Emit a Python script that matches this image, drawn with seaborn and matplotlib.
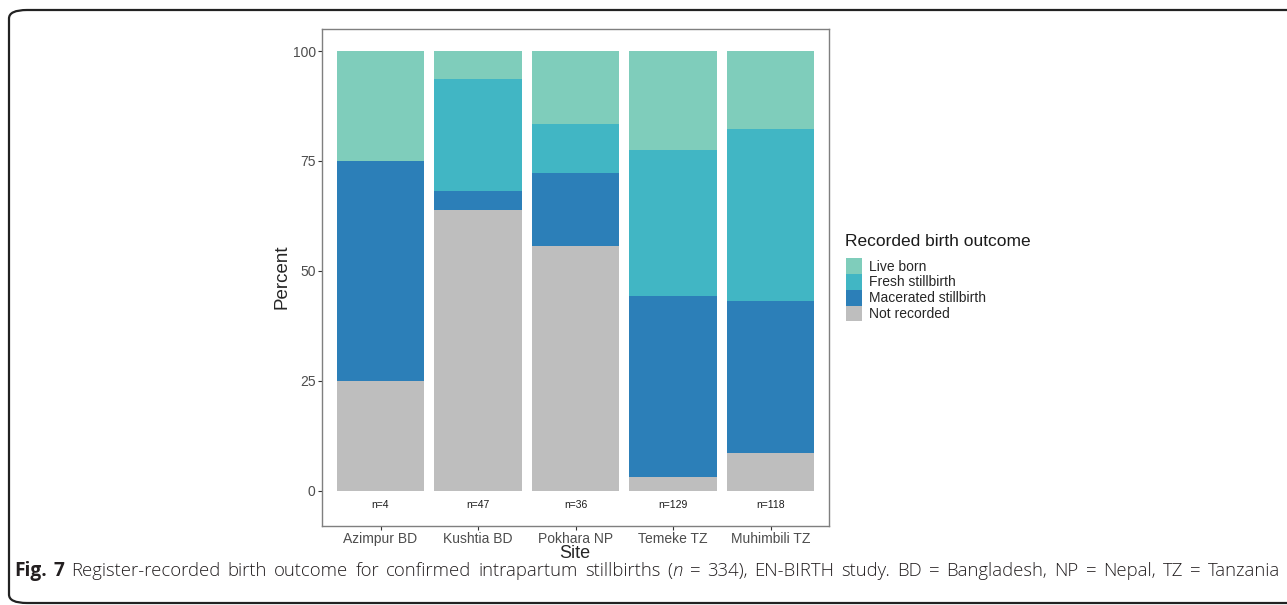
import numpy as np
import pandas as pd
import seaborn as sns
import matplotlib.pyplot as plt
from matplotlib.patches import Patch, FancyBboxPatch

# counts (percent = count / n)
sites = ['Azimpur BD', 'Kushtia BD', 'Pokhara NP', 'Temeke TZ', 'Muhimbili TZ']
not_recorded = [1, 30, 20, 4, 10]
macerated = [2, 2, 6, 53, 41]
fresh = [0, 12, 4, 43, 46]
live_born = [1, 3, 6, 29, 21]

outcomes = ['Live born', 'Fresh stillbirth', 'Macerated stillbirth', 'Not recorded']
colors = ['#7fcdbb', '#41b6c4', '#2c7fb8', '#bebebe']

df = pd.DataFrame({'site': sites, 'Not recorded': not_recorded,
                   'Macerated stillbirth': macerated,
                   'Fresh stillbirth': fresh, 'Live born': live_born})
df['n'] = df[outcomes].sum(axis=1)
pct = df[outcomes].div(df['n'], axis=0) * 100
# cumulative heights, stacked from the bottom: not recorded, macerated, fresh, live
cum = pct[outcomes[::-1]].cumsum(axis=1)

sns.set_style('white')
plt.rcParams['font.family'] = ['Liberation Sans', 'DejaVu Sans']

W, H = 1287, 605
fig = plt.figure(figsize=(W / 100, H / 100), dpi=100)
ax = fig.add_axes([322 / W, 1 - 525.7 / H, 507 / W, (525.7 - 28.7) / H])

for outcome, col in zip(outcomes, colors):
    sns.barplot(x=df['site'], y=cum[outcome], color=col, width=0.9,
                saturation=1, ax=ax, linewidth=0)

for i, n in enumerate(df['n']):
    ax.text(i, -3.2, f'n={n}', ha='center', va='center', fontsize=7.5, color='#1a1a1a')

ax.set_xlim(-0.6, 4.6)
ax.set_ylim(-8.0, 105.1)
ax.set_yticks([0, 25, 50, 75, 100])
ax.set_xlabel('')
ax.set_ylabel('')
ax.tick_params(axis='both', length=3, width=0.8, color='#333333',
               labelsize=10, labelcolor='#4d4d4d', pad=1.5, bottom=True, left=True)
for sp in ax.spines.values():
    sp.set_visible(True)
    sp.set_color('#7f7f7f')
    sp.set_linewidth(1)

fig.text(575 / W, 1 - 553 / H, 'Site', fontsize=13, ha='center', va='center')
fig.text(282 / W, 1 - 277 / H, 'Percent', fontsize=13.5, ha='center', va='center',
         rotation=90)

# legend: title as separate text, keys below
fig.text(845 / W, 1 - 242 / H, 'Recorded birth outcome', fontsize=12.5,
         ha='left', va='center', color='#1a1a1a')
handles = [Patch(facecolor=c, edgecolor='none') for c in colors]
fig.legend(handles, outcomes, loc='upper left', bbox_to_anchor=(846 / W, 1 - 258 / H),
           frameon=False, fontsize=10, handlelength=1.15, handleheight=1.38,
           labelspacing=0.0, handletextpad=0.5, borderpad=0, borderaxespad=0)

# rounded outer frame
frame = FancyBboxPatch((9 / W, 2 / H), 1300 / W, 593 / H,
                       boxstyle='round,pad=0,rounding_size=0.014',
                       transform=fig.transFigure, fill=False, edgecolor='#222222',
                       linewidth=1.6, clip_on=False)
fig.patches.append(frame)

# caption: justified line, words placed one after another
cap_kw = dict(family=['Open Sans', 'DejaVu Sans'], color='#231f20')
words = [[('Fig.', 'bold', 'normal', 13.8)], [('7', 'bold', 'normal', 13.8)]]
for w in 'Register-recorded birth outcome for confirmed intrapartum stillbirths'.split():
    words.append([(w, 'light', 'normal', 13.3)])
words.append([('(', 'light', 'normal', 13.3), ('n', 'light', 'italic', 13.3)])
for w in '= 334), EN-BIRTH study. BD = Bangladesh, NP = Nepal, TZ = Tanzania'.split():
    words.append([(w, 'light', 'normal', 13.3)])

renderer = fig.canvas.get_renderer()
y_cap = 1 - 571 / H
x_start, x_end = 14, 1280
groups = []
for wd in words:
    parts = []
    for txt, wt, st, fs in wd:
        t = fig.text(0, y_cap, txt, fontweight=wt, fontstyle=st, fontsize=fs,
                     va='center', **cap_kw)
        parts.append((t, t.get_window_extent(renderer).width))
    groups.append(parts)
total = sum(wd for g in groups for _, wd in g)
gap = (x_end - x_start - total) / (len(groups) - 1)
x = x_start
for g in groups:
    for t, wd in g:
        t.set_x(x / W)
        x += wd
    x += gap

plt.savefig('out.png', dpi=100)
